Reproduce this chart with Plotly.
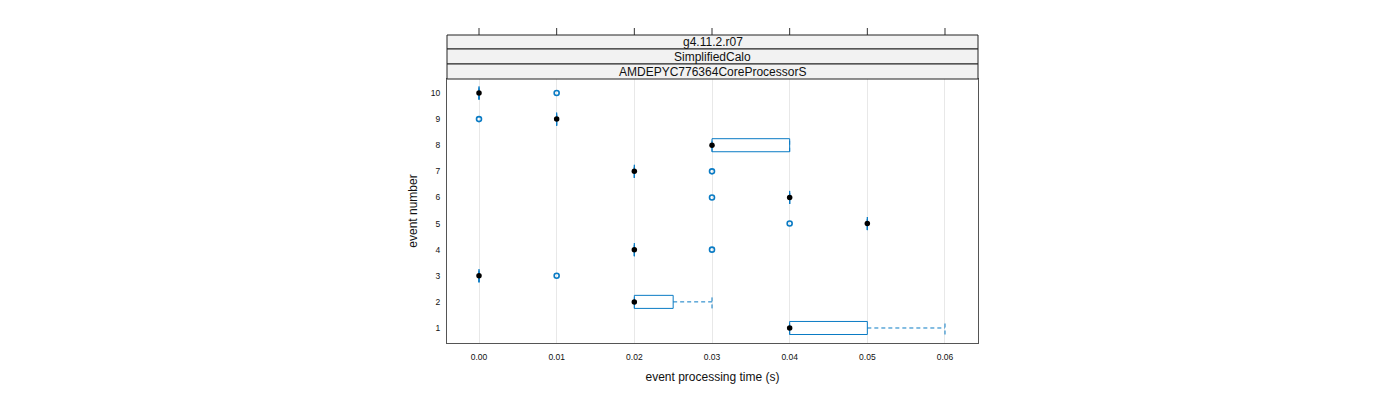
import plotly.graph_objects as go

events = [1, 2, 3, 4, 5, 6, 7, 8, 9, 10]
q1 = [0.04, 0.02, 0.00, 0.02, 0.05, 0.04, 0.02, 0.03, 0.01, 0.00]
med = [0.04, 0.02, 0.00, 0.02, 0.05, 0.04, 0.02, 0.03, 0.01, 0.00]
q3 = [0.05, 0.025, 0.00, 0.02, 0.05, 0.04, 0.02, 0.04, 0.01, 0.00]
wlo = [0.04, 0.02, 0.00, 0.02, 0.05, 0.04, 0.02, 0.03, 0.01, 0.00]
whi = [0.06, 0.03, 0.00, 0.02, 0.05, 0.04, 0.02, 0.04, 0.01, 0.00]
out_event = [3, 4, 5, 6, 7, 9, 10]
out_time = [0.01, 0.03, 0.04, 0.03, 0.03, 0.00, 0.01]

strip_labels = ["g4.11.2.r07", "SimplifiedCalo", "AMDEPYC776364CoreProcessorS"]
x_ticks = [0.00, 0.01, 0.02, 0.03, 0.04, 0.05, 0.06]
x_ticktext = ["0.00", "0.01", "0.02", "0.03", "0.04", "0.05", "0.06"]

BLUE = "#0a7bc4"
HW = 0.25

fig = go.Figure()

# boxes
bx, by = [], []
for e, a, b in zip(events, q1, q3):
    bx += [a, b, b, a, a, None]
    by += [e - HW, e - HW, e + HW, e + HW, e - HW, None]
fig.add_trace(go.Scatter(x=bx, y=by, mode="lines", line=dict(color=BLUE, width=1), hoverinfo="skip"))

# whiskers (dashed)
wx, wy = [], []
for e, lo, a, b, hi in zip(events, wlo, q1, q3, whi):
    wx += [lo, a, None, b, hi, None, lo, lo, None, hi, hi, None]
    wy += [e, e, None, e, e, None, e - HW, e + HW, None, e - HW, e + HW, None]
fig.add_trace(go.Scatter(x=wx, y=wy, mode="lines", line=dict(color=BLUE, width=1, dash="4px,3px"), hoverinfo="skip"))

# outliers
fig.add_trace(go.Scatter(x=out_time, y=out_event, mode="markers",
                         marker=dict(symbol="circle-open", size=5, color=BLUE, line=dict(width=1.6, color=BLUE))))

# medians
fig.add_trace(go.Scatter(x=med, y=events, mode="markers",
                         marker=dict(symbol="circle", size=5.5, color="black")))

H = 264.0
def py(p):
    return (343 - p) / H

shapes = []
# top ticks
for t in x_ticks:
    shapes.append(dict(type="line", xref="x", yref="paper", x0=t, x1=t, y0=py(35), y1=py(28),
                       line=dict(color="#333333", width=1)))
# strips
bounds = [(35, 49), (49, 64), (64, 79)]
annotations = []
for lab, (t, b) in zip(strip_labels, bounds):
    shapes.append(dict(type="rect", xref="paper", yref="paper", x0=0, x1=1, y0=py(b), y1=py(t),
                       fillcolor="#f2f2f2", line=dict(color="#222222", width=1), layer="above"))
    annotations.append(dict(text=lab, xref="paper", yref="paper", x=0.5, y=(py(b) + py(t)) / 2,
                            showarrow=False, font=dict(size=12, color="#111111"), yanchor="middle"))

fig.update_layout(
    width=1400, height=400,
    margin=dict(l=447, r=422, t=79, b=57),
    paper_bgcolor="white", plot_bgcolor="white",
    showlegend=False,
    font=dict(family="Liberation Sans, Arial, sans-serif", color="#111111"),
    shapes=shapes, annotations=annotations,
    xaxis=dict(range=[-0.00412, 0.06425], tickvals=x_ticks, ticktext=x_ticktext,
               showgrid=True, gridcolor="#e8e8e8", gridwidth=1, zeroline=False,
               showline=True, mirror=True, linecolor="#555555", linewidth=1,
               ticks="", tickfont=dict(size=8.5), ticklabelstandoff=6,
               title=dict(text="event processing time (s)", font=dict(size=12), standoff=11)),
    yaxis=dict(range=[0.425, 10.536], tickvals=events, ticktext=[str(e) for e in events],
               showgrid=False, zeroline=False,
               showline=True, mirror=True, linecolor="#555555", linewidth=1,
               ticks="", tickfont=dict(size=8.5), ticklabelstandoff=4,
               title=dict(text="event number", font=dict(size=12), standoff=10)),
)

fig.write_html("out.html")
